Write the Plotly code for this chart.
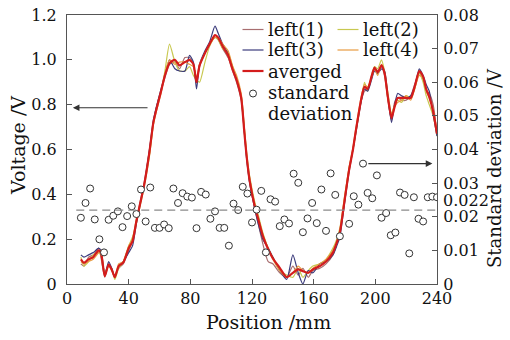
import plotly.graph_objects as go

# ---------------- data ----------------
curve_pos = [9, 11, 14, 17, 20.5, 22, 24.5, 27, 29, 31, 33.5, 36.5, 40, 42.5, 45, 47.5, 50, 53.5, 56, 58,
             61, 63.5, 66.5, 70, 73, 76.5, 79.5, 82, 84, 86, 89.5, 92.5, 96, 98, 101, 104.5, 107.5, 110, 113, 115,
             116.5, 118.5, 122, 124, 127, 130.5, 133.5, 138, 142.5, 146.5, 150, 153, 156.5, 159.5, 164, 168, 172.5, 175, 177, 180,
             183, 185.5, 187.5, 191, 193, 195, 197.5, 199.5, 201.5, 204, 206, 208, 210.5, 212.5, 214.5, 217, 220, 223, 225.5, 228.5,
             231, 233, 235, 237.5, 240]

left1 = [0.09, 0.08, 0.12, 0.13, 0.16, 0.12, 0.03, 0.09, 0.06, 0.04,
         0.07, 0.09, 0.15, 0.19, 0.28, 0.37, 0.45, 0.60, 0.72, 0.79,
         0.86, 0.92, 0.98, 0.99, 0.96, 1.01, 1.01, 0.98, 0.90, 0.97,
         1.03, 1.07, 1.10, 1.09, 1.05, 1.01, 0.95, 0.90, 0.82, 0.68,
         0.57, 0.45, 0.33, 0.27, 0.18, 0.10, 0.09, 0.05, 0.03, 0.08,
         0.04, 0.07, 0.03, 0.06, 0.07, 0.09, 0.13, 0.18, 0.23, 0.36,
         0.50, 0.60, 0.69, 0.82, 0.86, 0.87, 0.92, 0.96, 0.94, 0.97,
         0.93, 0.83, 0.73, 0.81, 0.83, 0.82, 0.82, 0.84, 0.89, 0.94,
         0.91, 0.86, 0.85, 0.80, 0.67]

left2 = [0.12, 0.08, 0.10, 0.13, 0.14, 0.13, 0.05, 0.08, 0.07, 0.02,
         0.07, 0.10, 0.17, 0.21, 0.27, 0.35, 0.43, 0.57, 0.71, 0.78,
         0.86, 0.95, 1.07, 0.99, 0.95, 0.95, 0.97, 0.93, 0.91, 0.90,
         0.99, 1.06, 1.10, 1.09, 1.05, 1.03, 0.97, 0.92, 0.84, 0.70,
         0.59, 0.48, 0.36, 0.31, 0.23, 0.16, 0.12, 0.06, 0.04, 0.03,
         0.07, 0.03, 0.06, 0.08, 0.09, 0.11, 0.16, 0.20, 0.25, 0.38,
         0.52, 0.60, 0.68, 0.83, 0.90, 0.86, 0.93, 0.97, 0.96, 1.00,
         0.95, 0.86, 0.76, 0.80, 0.82, 0.81, 0.84, 0.83, 0.87, 0.94,
         0.90, 0.84, 0.80, 0.75, 0.66]

left3 = [0.13, 0.12, 0.13, 0.14, 0.16, 0.15, 0.04, 0.10, 0.07, 0.03,
         0.08, 0.10, 0.14, 0.17, 0.27, 0.36, 0.44, 0.60, 0.73, 0.79,
         0.87, 0.93, 1.00, 0.96, 0.95, 0.95, 1.02, 0.99, 0.87, 0.98,
         1.04, 1.08, 1.15, 1.12, 1.07, 1.03, 0.96, 0.91, 0.83, 0.68,
         0.56, 0.45, 0.33, 0.27, 0.20, 0.16, 0.12, 0.06, 0.02, 0.13,
         0.05, 0.00, 0.06, 0.05, 0.09, 0.10, 0.13, 0.17, 0.21, 0.36,
         0.51, 0.60, 0.68, 0.82, 0.87, 0.86, 0.91, 0.95, 0.94, 0.96,
         0.95, 0.84, 0.72, 0.80, 0.85, 0.84, 0.83, 0.84, 0.88, 0.96,
         0.93, 0.89, 0.86, 0.76, 0.66]

left4 = [0.10, 0.09, 0.10, 0.11, 0.14, 0.15, 0.04, 0.08, 0.06, 0.03,
         0.09, 0.10, 0.17, 0.20, 0.29, 0.36, 0.44, 0.58, 0.71, 0.77,
         0.85, 0.94, 1.00, 0.98, 0.99, 0.99, 0.98, 0.97, 0.92, 0.98,
         1.03, 1.07, 1.10, 1.10, 1.07, 1.04, 0.97, 0.93, 0.85, 0.70,
         0.58, 0.47, 0.35, 0.30, 0.22, 0.16, 0.11, 0.06, 0.03, 0.05,
         0.08, 0.06, 0.05, 0.07, 0.09, 0.11, 0.15, 0.19, 0.24, 0.39,
         0.52, 0.61, 0.70, 0.84, 0.89, 0.88, 0.92, 0.96, 0.93, 0.98,
         0.94, 0.83, 0.76, 0.79, 0.81, 0.82, 0.84, 0.82, 0.87, 0.93,
         0.92, 0.86, 0.83, 0.78, 0.68]

averaged = [0.11, 0.095, 0.11, 0.12, 0.15, 0.14, 0.035, 0.087, 0.065, 0.03,
            0.08, 0.095, 0.16, 0.19, 0.28, 0.36, 0.44, 0.59, 0.72, 0.78,
            0.86, 0.93, 0.985, 1.0, 0.975, 0.99, 1.0, 0.98, 0.90, 0.975,
            1.03, 1.07, 1.11, 1.10, 1.06, 1.02, 0.955, 0.91, 0.83, 0.68,
            0.57, 0.46, 0.34, 0.29, 0.215, 0.155, 0.115, 0.072, 0.03, 0.05,
            0.065, 0.057, 0.05, 0.065, 0.08, 0.10, 0.14, 0.185, 0.23, 0.37,
            0.51, 0.60, 0.69, 0.83, 0.88, 0.87, 0.925, 0.965, 0.945, 0.975,
            0.94, 0.84, 0.74, 0.79, 0.83, 0.83, 0.83, 0.83, 0.88, 0.95,
            0.925, 0.87, 0.835, 0.77, 0.67]

std_pos = list(range(9, 241, 3))
std_dev = [0.0197, 0.0241, 0.0284, 0.0192, 0.0133, 0.0094, 0.0191, 0.0203, 0.0216, 0.0169,
           0.0202, 0.0231, 0.0208, 0.0281, 0.0186, 0.0287, 0.0167, 0.0167, 0.0177, 0.0166,
           0.0284, 0.0241, 0.0270, 0.0260, 0.0257, 0.0166, 0.0274, 0.0266, 0.0194, 0.0216,
           0.0167, 0.0167, 0.0114, 0.0239, 0.0220, 0.0289, 0.0269, 0.0183, 0.0221, 0.0277,
           0.0094, 0.0252, 0.0245, 0.0172, 0.0192, 0.0180, 0.0328, 0.0301, 0.0154, 0.0195,
           0.0241, 0.0181, 0.0281, 0.0158, 0.0329, 0.0265, 0.0142, None, 0.0179, 0.0261,
           0.0236, 0.0358, 0.0271, 0.0255, 0.0323, 0.0197, 0.0211, 0.0145, 0.0153, 0.0272,
           0.0265, 0.0091, 0.0258, 0.0194, 0.0186, 0.0258, 0.0260, 0.0258]

mean_std = 0.022

x_ticks = [0, 40, 80, 120, 160, 200, 240]
y_ticks = [0, 0.2, 0.4, 0.6, 0.8, 1.0, 1.2]
y_ticktext = ["0", "0.2", "0.4", "0.6", "0.8", "1.0", "1.2"]
y2_ticks = [0, 0.01, 0.02, 0.03, 0.04, 0.05, 0.06, 0.07, 0.08]
y2_ticktext = ["0", "0.01", "0.02", "0.03", "0.04", "0.05", "0.06", "0.07", "0.08"]

series_names = ["left(1)", "left(2)", "left(3)", "left(4)", "averged"]
series_colors = ["#a86e70", "#c8c850", "#3c3c7c", "#e89a40", "#d41c1c"]

# ---------------- figure ----------------
FONT = "DejaVu Serif"
W, H = 510, 340
L, R, T, B = 67, 437, 15, 284
fig = go.Figure()

for name, vals, col in zip(series_names, [left1, left2, left3, left4, averaged], series_colors):
    fig.add_trace(go.Scatter(
        x=curve_pos, y=vals, mode="lines", name=name,
        line=dict(color=col, width=2.2 if name == "averged" else 1.2, shape="spline", smoothing=0.6),
        showlegend=False, yaxis="y", hoverinfo="skip"))

fig.add_trace(go.Scatter(
    x=std_pos, y=std_dev, mode="markers", name="standard deviation",
    marker=dict(symbol="circle", size=7, color="white", line=dict(color="#333333", width=1)),
    showlegend=False, yaxis="y2", hoverinfo="skip"))


def px2x(px):
    return (px - L) / (R - L)


def py2y(py):
    return (B - py) / (B - T)


shapes = []
annotations = []
# mean std dashed line
shapes.append(dict(type="line", xref="x", yref="y2", x0=6, x1=240, y0=mean_std, y1=mean_std,
                   line=dict(color="#8a8a8a", width=1.2, dash="8px,5px")))

# manual legend
leg_rows = [
    (29.5, 242.5, series_names[0], series_colors[0]),
    (29.5, 337.5, series_names[1], series_colors[1]),
    (50, 242.5, series_names[2], series_colors[2]),
    (50, 337.5, series_names[3], series_colors[3]),
    (71, 242.5, series_names[4], series_colors[4]),
]
for py, x0, label, col in leg_rows:
    shapes.append(dict(type="line", xref="paper", yref="paper",
                       x0=px2x(x0), x1=px2x(x0 + 21), y0=py2y(py), y1=py2y(py),
                       line=dict(color=col, width=2.2 if label == "averged" else 1.2)))
    annotations.append(dict(text=label, xref="paper", yref="paper", x=px2x(x0 + 23), y=py2y(py),
                            xanchor="left", yanchor="middle", showarrow=False,
                            font=dict(family=FONT, size=18, color="#111")))
shapes.append(dict(type="circle", xref="paper", yref="paper", xsizemode="pixel", ysizemode="pixel",
                   xanchor=px2x(253), yanchor=py2y(93.5), x0=-3.5, x1=3.5, y0=-3.5, y1=3.5,
                   line=dict(color="#333", width=1), fillcolor="white"))
annotations.append(dict(text="standard", xref="paper", yref="paper", x=px2x(265.5), y=py2y(92.5),
                        xanchor="left", yanchor="middle", showarrow=False,
                        font=dict(family=FONT, size=18, color="#111")))
annotations.append(dict(text="deviation", xref="paper", yref="paper", x=px2x(265.5), y=py2y(113.5),
                        xanchor="left", yanchor="middle", showarrow=False,
                        font=dict(family=FONT, size=18, color="#111")))

# arrows
annotations.append(dict(x=3.8, y=0.786, ax=53.2, ay=0.786, xref="x", yref="y", axref="x", ayref="y",
                        text="", showarrow=True, arrowhead=2, arrowsize=1.2, arrowwidth=1.1, arrowcolor="#333"))
annotations.append(dict(x=237, y=0.0358, ax=194.5, ay=0.0358, xref="x", yref="y2", axref="x", ayref="y2",
                        text="", showarrow=True, arrowhead=2, arrowsize=1.2, arrowwidth=1.1, arrowcolor="#333"))
# extra right-axis label for mean std
annotations.append(dict(text="0.022", xref="paper", yref="y2", x=1, y=mean_std, xanchor="left",
                        yanchor="middle", xshift=4, yshift=10, showarrow=False,
                        font=dict(family=FONT, size=16, color="#111")))

# axis titles as annotations (fixed positions)
annotations.append(dict(text="Position /mm", xref="paper", yref="paper", x=px2x(268), y=py2y(322),
                        xanchor="center", yanchor="middle", showarrow=False,
                        font=dict(family=FONT, size=19, color="#111")))
annotations.append(dict(text="Voltage /V", xref="paper", yref="paper", x=px2x(18), y=py2y(146),
                        xanchor="center", yanchor="middle", textangle=-90, showarrow=False,
                        font=dict(family=FONT, size=19, color="#111")))
annotations.append(dict(text="Standard deviation /V", xref="paper", yref="paper", x=px2x(495), y=py2y(168),
                        xanchor="center", yanchor="middle", textangle=-90, showarrow=False,
                        font=dict(family=FONT, size=18, color="#111")))

axis_common = dict(showline=True, linecolor="#555", linewidth=1, ticks="inside", ticklen=5,
                   tickcolor="#555", showgrid=False, zeroline=False, automargin=False,
                   tickfont=dict(family=FONT, size=16, color="#111"))

fig.update_layout(
    width=W, height=H, margin=dict(l=L, r=W - R, t=T, b=H - B, autoexpand=False),
    paper_bgcolor="white", plot_bgcolor="white", showlegend=False, hovermode=False,
    xaxis=dict(range=[0, 240], tickvals=x_ticks, mirror=True, **axis_common),
    yaxis=dict(range=[0, 1.2], tickvals=y_ticks, ticktext=y_ticktext, ticklabelstandoff=6, **axis_common),
    yaxis2=dict(range=[0, 0.08], tickvals=y2_ticks, ticktext=y2_ticktext, overlaying="y", side="right",
                ticklabelstandoff=2, **axis_common),
    shapes=shapes, annotations=annotations,
)

fig.write_html("out.html", config={"displayModeBar": False, "staticPlot": True},
               post_script="document.body.style.margin='0px';")
